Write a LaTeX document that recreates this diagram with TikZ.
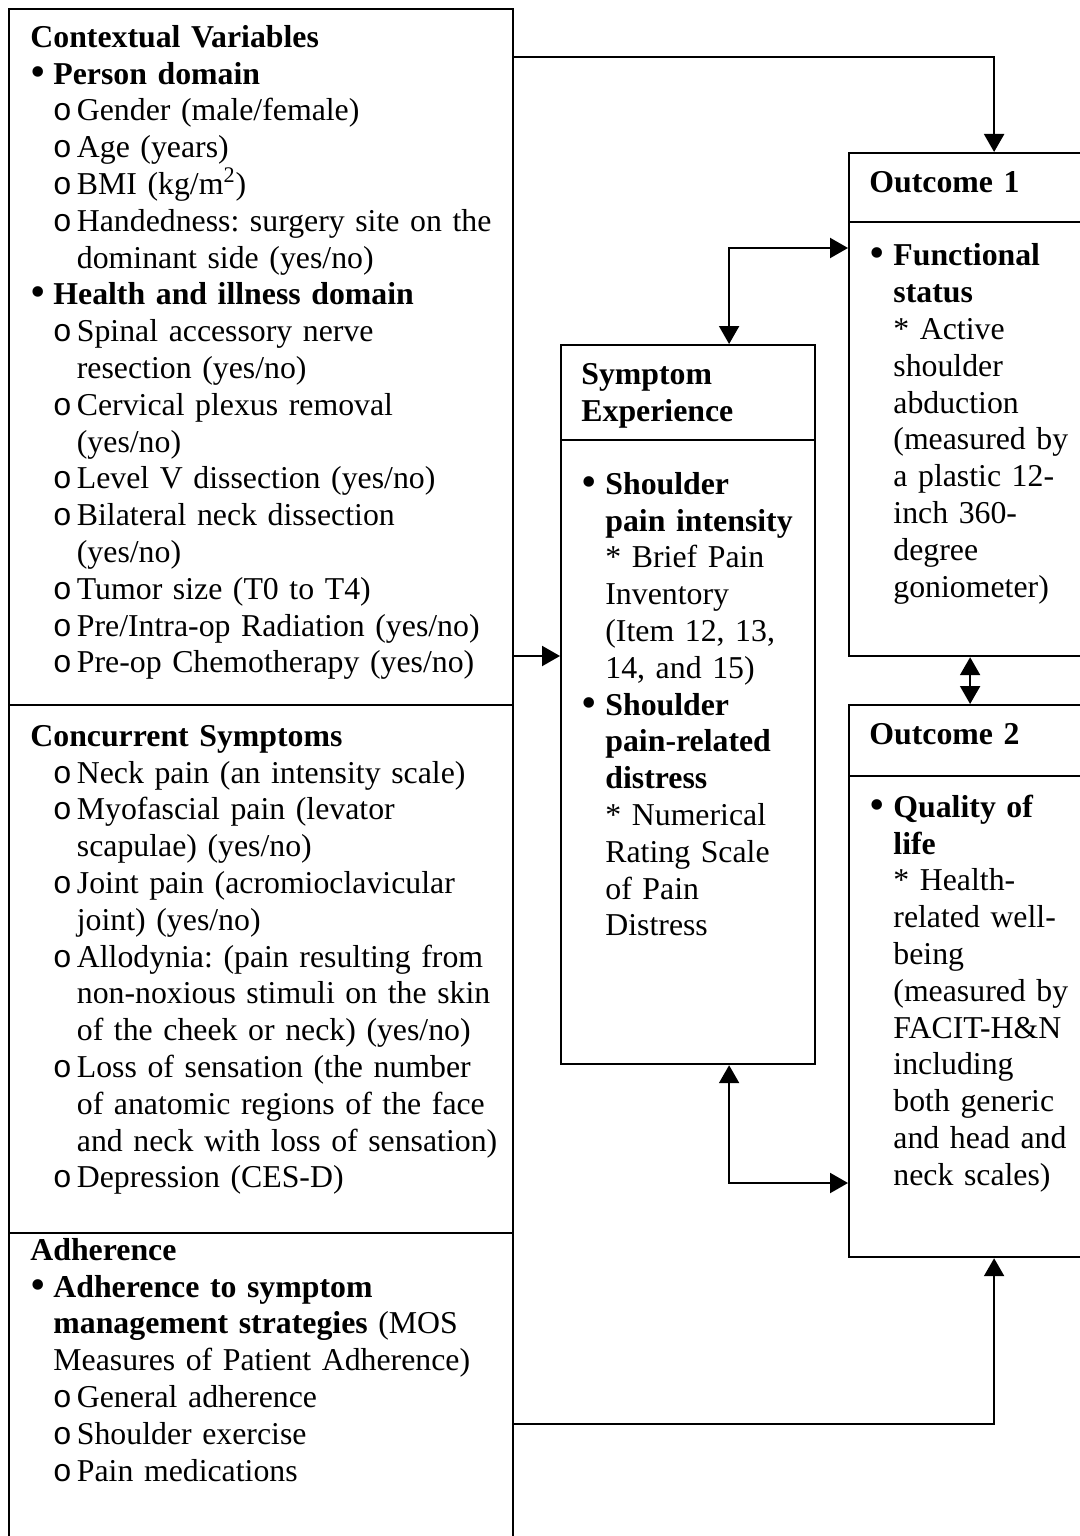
\documentclass[tikz,border=0pt]{standalone}
\usepackage{fontspec}
\setmainfont{Liberation Serif}
\newfontfamily\monofam{Liberation Mono}
\usetikzlibrary{arrows.meta}

% list markers: bullet with hanging text, open-circle sub item, continuation indent
\newcommand\bitem[1]{\makebox[#1][l]{\raisebox{-1pt}{\fontsize{22pt}{0pt}\selectfont •}}}
\newcommand\oitem{\hspace*{11.25pt}\makebox[12pt][l]{\monofam o}}
\newcommand\contl{\hspace*{23.25pt}}

\begin{document}
\frenchspacing
\begin{tikzpicture}[x=0.5pt,y=-0.5pt,
  frame/.style={draw, line width=1.1pt, inner sep=0pt, anchor=north west},
  rule/.style={line width=1.1pt},
  txt/.style={inner sep=0pt, anchor=north west, align=left, text width=#1,
    font=\fontsize{15.9pt}{18.4pt}\selectfont},
  conn/.style={line width=1.1pt, -{Triangle[length=9pt,width=10pt]}},
  conn2/.style={line width=1.1pt,
    {Triangle[length=9pt,width=10pt]}-{Triangle[length=9pt,width=10pt]}}]

\path[use as bounding box, fill=white] (0,0) rectangle (1080,1536);

% boxes
\node[frame, minimum width=252pt, minimum height=348pt] (ctx) at (8,8) {};
\node[frame, minimum width=252pt, minimum height=264pt] (conc) at (8,704) {};
\node[frame, minimum width=252pt, minimum height=160pt] (adh) at (8,1232) {};
\node[frame, minimum width=127pt, minimum height=359.5pt] (sym) at (560,344) {};
\node[frame, minimum width=145pt, minimum height=251.5pt] (o1) at (848,152) {};
\node[frame, minimum width=145pt, minimum height=276pt] (o2) at (848,704) {};

% header rules
\draw[rule] ([yshift=-48pt]sym.north west) -- ([yshift=-48pt]sym.north east);
\draw[rule] ([yshift=-35pt]o1.north west) -- ([yshift=-35pt]o1.north east);
\draw[rule] ([yshift=-36pt]o2.north west) -- ([yshift=-36pt]o2.north east);

% contextual variables
\node[txt=240pt] (ctxt) at (30,21.2) {\strut\textbf{Contextual Variables}\\
\bitem{11.5pt}\textbf{Person domain}\\
\oitem Gender (male/female)\\
\oitem Age (years)\\
\oitem BMI (kg/m\textsuperscript{2})\\
\oitem Handedness: surgery site on the\\
\contl dominant side (yes/no)\\
\bitem{11.5pt}\textbf{Health and illness domain}\\
\oitem Spinal accessory nerve\\
\contl resection (yes/no)\\
\oitem Cervical plexus removal\\
\contl (yes/no)\\
\oitem Level V dissection (yes/no)\\
\oitem Bilateral neck dissection\\
\contl (yes/no)\\
\oitem Tumor size (T0 to T4)\\
\oitem Pre/Intra-op Radiation (yes/no)\\
\oitem Pre-op Chemotherapy (yes/no)};

% concurrent symptoms
\node[txt=240pt] (conct) at (30,720.2) {\strut\textbf{Concurrent Symptoms}\\
\oitem Neck pain (an intensity scale)\\
\oitem Myofascial pain (levator\\
\contl scapulae) (yes/no)\\
\oitem Joint pain (acromioclavicular\\
\contl joint) (yes/no)\\
\oitem Allodynia: (pain resulting from\\
\contl non-noxious stimuli on the skin\\
\contl of the cheek or neck) (yes/no)\\
\oitem Loss of sensation (the number\\
\contl of anatomic regions of the face\\
\contl and neck with loss of sensation)\\
\oitem Depression (CES-D)};

% adherence
\node[txt=240pt] (adht) at (30,1234.2) {\strut\textbf{Adherence}\\
\bitem{11.5pt}\textbf{Adherence to symptom}\\
\hspace*{11.5pt}\textbf{management strategies} (MOS\\
\hspace*{11.5pt}Measures of Patient Adherence)\\
\oitem General adherence\\
\oitem Shoulder exercise\\
\oitem Pain medications};

% symptom experience
\node[txt=120pt] (symh) at (581,358.2) {\strut\textbf{Symptom}\\\textbf{Experience}};
\node[txt=120pt] (symt) at (581,468.2) {\strut\bitem{12pt}\textbf{Shoulder}\\
\hspace*{12pt}\textbf{pain intensity}\\
\hspace*{12pt}* Brief Pain\\
\hspace*{12pt}Inventory\\
\hspace*{12pt}(Item 12, 13,\\
\hspace*{12pt}14, and 15)\\
\bitem{12pt}\textbf{Shoulder}\\
\hspace*{12pt}\textbf{pain-related}\\
\hspace*{12pt}\textbf{distress}\\
\hspace*{12pt}* Numerical\\
\hspace*{12pt}Rating Scale\\
\hspace*{12pt}of Pain\\
\hspace*{12pt}Distress};

% outcome 1
\node[txt=120pt] (o1h) at (869,166.2) {\strut\textbf{Outcome 1}};
\node[txt=120pt] (o1t) at (869,239.8) {\strut\bitem{12pt}\textbf{Functional}\\
\hspace*{12pt}\textbf{status}\\
\hspace*{12pt}* Active\\
\hspace*{12pt}shoulder\\
\hspace*{12pt}abduction\\
\hspace*{12pt}(measured by\\
\hspace*{12pt}a plastic 12-\\
\hspace*{12pt}inch 360-\\
\hspace*{12pt}degree\\
\hspace*{12pt}goniometer)};

% outcome 2
\node[txt=120pt] (o2h) at (869,718.8) {\strut\textbf{Outcome 2}};
\node[txt=120pt] (o2t) at (869,791.2) {\strut\bitem{12pt}\textbf{Quality of}\\
\hspace*{12pt}\textbf{life}\\
\hspace*{12pt}* Health-\\
\hspace*{12pt}related well-\\
\hspace*{12pt}being\\
\hspace*{12pt}(measured by\\
\hspace*{12pt}FACIT-H\&N\\
\hspace*{12pt}including\\
\hspace*{12pt}both generic\\
\hspace*{12pt}and head and\\
\hspace*{12pt}neck scales)};

% connectors
\draw[conn] ([yshift=-24.5pt]ctx.north east) -| (o1.north);
\draw[conn] ([yshift=-324pt]ctx.north east) coordinate (cs) -- (cs -| sym.west);
\draw[conn2] ([xshift=20.5pt]sym.north) |- ([yshift=-48pt]o1.north west);
\draw[conn2] ([xshift=20.5pt]sym.south) |- ([yshift=-239.5pt]o2.north west);
\draw[conn2] ([xshift=-12pt]o1.south) -- ([xshift=-12pt]o2.north);
\draw[conn] ([yshift=-96pt]adh.north east) -| (o2.south);
\end{tikzpicture}
\end{document}
